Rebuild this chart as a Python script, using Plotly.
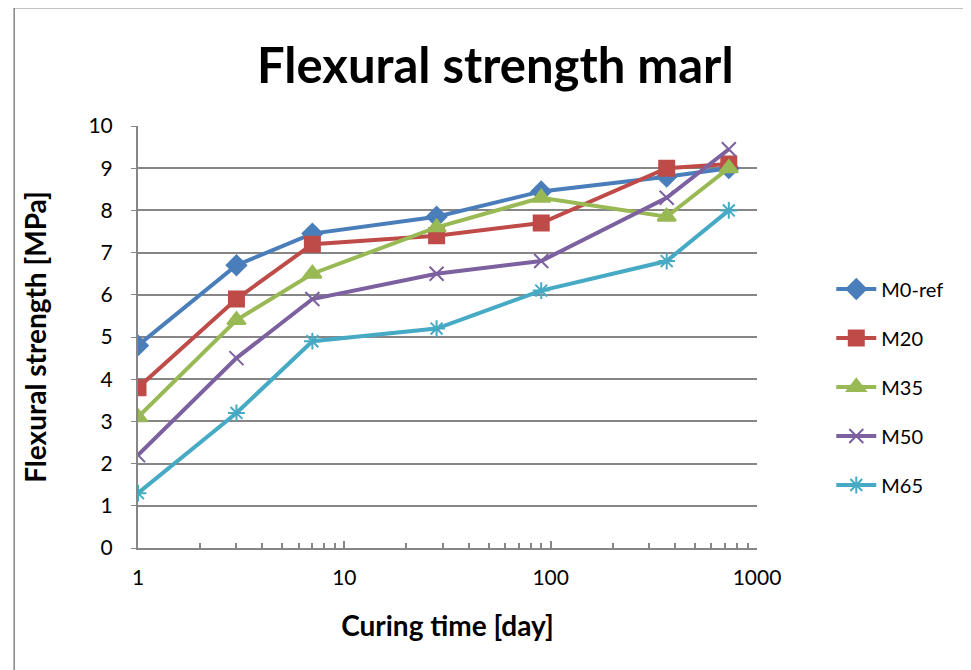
import plotly.graph_objects as go

days = [1, 3, 7, 28, 90, 365, 730]
m0_ref = [4.8, 6.7, 7.45, 7.85, 8.45, 8.8, 9.0]
m20 = [3.8, 5.9, 7.2, 7.4, 7.7, 9.0, 9.1]
m35 = [3.1, 5.4, 6.5, 7.6, 8.3, 7.85, 9.0]
m50 = [2.2, 4.5, 5.9, 6.5, 6.8, 8.3, 9.45]
m65 = [1.3, 3.2, 4.9, 5.2, 6.1, 6.8, 8.0]

x_major = [1, 10, 100, 1000]
x_major_labels = ["1", "10", "100", "1000"]
x_minor = [2, 3, 4, 5, 6, 7, 8, 9, 20, 30, 40, 50, 60, 70, 80, 90,
           200, 300, 400, 500, 600, 700, 800, 900]

series = [
    ("M0-ref", m0_ref, "#4A7EBB", "diamond", 15),
    ("M20", m20, "#BE4B48", "square", 15),
    ("M35", m35, "#98B954", "triangle-up", 16),
    ("M50", m50, "#7D60A0", "x-thin-open", 14),
    ("M65", m65, "#46AAC5", "asterisk-open", 14),
]

fig = go.Figure()
for name, vals, color, sym, size in series:
    fig.add_trace(go.Scatter(
        x=days, y=vals, name=name, mode="lines+markers", legendgroup=name,
        line=dict(color=color, width=4),
        marker=dict(symbol=sym, size=size, color=color,
                    line=dict(color=color, width=2)),
    ))

font = "Lato, 'Open Sans', sans-serif"
fig.update_layout(
    width=963, height=662,
    paper_bgcolor="white", plot_bgcolor="white",
    margin=dict(l=130, r=214, t=118, b=122),
    font=dict(family=font, size=21, color="black"),
    title=dict(text="<b>Flexural strength marl</b>", x=0.506, xanchor="center",
               y=0.912, yanchor="middle", font=dict(size=49, family=font)),
    legend=dict(x=1.12, y=0.66, xanchor="left", yanchor="top",
                font=dict(size=20, family=font), tracegroupgap=20,
                itemwidth=40, bgcolor="rgba(0,0,0,0)"),
    showlegend=True,
)
fig.update_xaxes(
    type="log", range=[0, 3], tickvals=x_major, ticktext=x_major_labels,
    showgrid=False, showline=True, linecolor="#868686", linewidth=2,
    ticks="inside", ticklen=7, tickcolor="#868686", tickwidth=1.5,
    ticklabelstandoff=10,
    minor=dict(tickvals=x_minor, ticks="inside", ticklen=5, tickcolor="#868686",
               tickwidth=1.5, showgrid=False),
    title=dict(text="<b>Curing time [day]</b>", font=dict(size=28, family=font), standoff=28),
    tickfont=dict(size=21), zeroline=False,
)
fig.update_yaxes(
    range=[0, 10], dtick=1, showgrid=True, gridcolor="#868686", gridwidth=1.5,
    showline=True, linecolor="#868686", linewidth=2,
    ticks="outside", ticklen=5, tickcolor="#868686",
    ticklabelstandoff=14,
    title=dict(text="<b>Flexural strength [MPa]</b>", font=dict(size=28, family=font), standoff=34),
    tickfont=dict(size=21), zeroline=False,
)
fig.add_shape(type="rect", xref="paper", yref="paper",
              x0=-0.200, x1=1.35, y0=-0.30, y1=1.28,
              line=dict(color="#868686", width=1.5))
fig.write_html("out.html")
